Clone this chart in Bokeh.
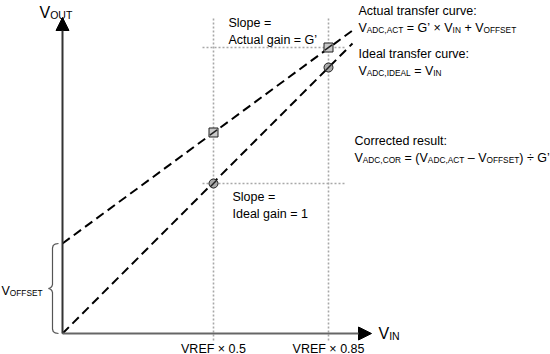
import math
from bokeh.plotting import figure
from bokeh.models import Range1d, ColumnDataSource, Arrow, NormalHead
from bokeh.core.properties import value
from bokeh.embed import file_html
from bokeh.resources import INLINE

# ---------------- data (schematic units) ----------------
vin_ticks = [151, 266]                      # VREF x 0.5, VREF x 0.85
tick_labels = ["VREF × 0.5", "VREF × 0.85"]
v_offset = 90
actual_x = [0, 290]
actual_y = [90, 303]
ideal_x = [0, 290]
ideal_y = [0, 290]
actual_pts_y = [201, 286]
ideal_pts_y = [150, 266]

FONT = "Liberation Sans"
MAIN = 12.5
SUB = 8.3
NB = "\u00a0"
TSHIFT = 4   # text baseline correction (px)

# Arial advance widths (1/1000 em)
W = {' ': 278, NB: 278, '(': 333, ')': 333, '=': 584, '+': 584, '×': 584, '÷': 584, '–': 556,
     "'": 191, '’': 222, ',': 278, '.': 278, ':': 278}
for c in "0123456789":
    W[c] = 556
W.update(dict(zip("ABCDEFGHIJKLMNOPQRSTUVWXYZ",
                  [667, 667, 722, 722, 667, 611, 778, 722, 278, 500, 667, 556, 833,
                   722, 778, 667, 778, 722, 667, 611, 722, 667, 944, 667, 667, 611])))
W.update(dict(zip("abcdefghijklmnopqrstuvwxyz",
                  [556, 556, 500, 556, 556, 278, 556, 556, 222, 222, 500, 222, 833,
                   556, 556, 556, 556, 333, 500, 278, 556, 500, 722, 500, 500, 500])))


def tw(s, size):
    return sum(W.get(c, 556) for c in s) * size / 1000.0


X0, Y0 = 62, 333   # pixel position of the origin


def dx(px):
    return px - X0


def dy(py):
    return Y0 - py


p = figure(width=550, height=354, x_range=Range1d(-62, 488), y_range=Range1d(-21, 333),
           output_backend="svg", toolbar_location=None, min_border=0,
           x_axis_type=None, y_axis_type=None)
p.grid.visible = False
p.outline_line_color = None
p.background_fill_color = "white"
p.border_fill_color = "white"

# gray dotted guide lines
dot_col = "#a8a8a8"
p.multi_line(xs=[[x, x] for x in vin_ticks], ys=[[dy(340), dy(18)]] * 2,
             line_color=dot_col, line_width=1.6, line_dash="2 2")
p.multi_line(xs=[[dx(202), dx(345)]] * 2, ys=[[y, y] for y in [actual_pts_y[1], ideal_pts_y[0]]],
             line_color=dot_col, line_width=1.6, line_dash="2 2")

# axes with arrows
p.add_layout(Arrow(end=NormalHead(size=13, fill_color="black", line_color="black"),
                   x_start=0, y_start=0, x_end=0, y_end=dy(17),
                   line_color="#333333", line_width=2))
p.add_layout(Arrow(end=NormalHead(size=13, fill_color="black", line_color="black"),
                   x_start=0, y_start=0, x_end=dx(371), y_end=0,
                   line_color="#666666", line_width=2))

# transfer curves
p.line(actual_x, actual_y, line_color="black", line_width=2, line_dash="9 5")
p.line(ideal_x, ideal_y, line_color="black", line_width=2, line_dash="9 5")

# markers
p.scatter(vin_ticks, actual_pts_y, marker="square", size=9, fill_color="#c8c8c8",
          line_color="#202020", line_width=1)
p.scatter(vin_ticks, ideal_pts_y, marker="circle", size=9, fill_color="#a8a8a8",
          line_color="#202020", line_width=1)
sa = math.atan((actual_y[1] - actual_y[0]) / (actual_x[1] - actual_x[0]))
si = math.atan((ideal_y[1] - ideal_y[0]) / (ideal_x[1] - ideal_x[0]))
p.scatter(vin_ticks, actual_pts_y, marker="dash", size=9, angle=sa,
          line_color="#202020", line_width=1.5)
p.scatter(vin_ticks, ideal_pts_y, marker="dash", size=9, angle=si,
          line_color="#202020", line_width=1.5)

# V_OFFSET brace (drawn as a polyline spanning 0 .. v_offset)
bx, hx, tx = -10.0, -4.0, -14.0
mid = v_offset / 2.0
brace_x = [hx, bx + 2.5, bx + 0.7, bx, bx, bx - 0.7, bx - 2, tx, bx - 2, bx - 0.7, bx,
           bx, bx + 0.7, bx + 2.5, hx]
brace_y = [v_offset, v_offset - 0.6, v_offset - 2, v_offset - 4.5, mid + 4, mid + 2, mid + 0.8,
           mid, mid - 0.8, mid - 2, mid - 4, 4.5, 2, 0.6, 0]
p.line(brace_x, brace_y, line_color="#555555", line_width=1.2)

# ---------------- texts ----------------
main_src = dict(x=[], y=[], text=[])
sub_src = dict(x=[], y=[], text=[])
big_src = dict(x=[], y=[], text=[])
bigsub_src = dict(x=[], y=[], text=[])


def rich(px, py, segs, big=False):
    x = dx(px)
    y = dy(py - TSHIFT)
    ms, ss = (16, 10.5) if big else (MAIN, SUB)
    for txt, sub in segs:
        txt = txt.replace(" ", NB)
        if big:
            d = bigsub_src if sub else big_src
        else:
            d = sub_src if sub else main_src
        d["x"].append(x)
        d["y"].append(y - (2.5 if big else 2) if sub else y)
        d["text"].append(txt)
        x += tw(txt, ss if sub else ms)


def plain(px, py, s):
    rich(px, py, [(s, False)])


plain(228, 26, "Slope =")
plain(228, 43, "Actual gain = G’")
plain(232, 200, "Slope =")
plain(232, 217, "Ideal gain = 1")

plain(358, 14, "Actual transfer curve:")
rich(358, 31, [("V", False), ("ADC,ACT", True), (" = G’ × V", False), ("IN", True),
               (" + V", False), ("OFFSET", True)])
plain(358, 57, "Ideal transfer curve:")
rich(358, 74, [("V", False), ("ADC,IDEAL", True), (" = V", False), ("IN", True)])
plain(354, 144, "Corrected result:")
rich(354, 161, [("V", False), ("ADC,COR", True), (" = (V", False), ("ADC,ACT", True),
                (" – V", False), ("OFFSET", True), (") ÷ G’", False)])

rich(1, 294, [("V", False), ("OFFSET", True)])
rich(39, 16, [("V", False), ("OUT", True)], big=True)
rich(378, 337, [("V", False), ("IN", True)], big=True)

for d, size in [(main_src, MAIN), (sub_src, SUB), (big_src, 16), (bigsub_src, 10.5)]:
    p.text(x="x", y="y", text="text", source=ColumnDataSource(d),
           text_font=value(FONT), text_font_size=value(f"{size}px"),
           text_baseline="alphabetic", text_align="left", text_color="black")

# tick labels
p.text(x=vin_ticks, y=[dy(352 - TSHIFT)] * len(vin_ticks), text=tick_labels,
       text_font=value(FONT), text_font_size=value(f"{MAIN}px"),
       text_baseline="alphabetic", text_align="center", text_color="black")

open("out.html", "w").write(file_html(p, INLINE))
